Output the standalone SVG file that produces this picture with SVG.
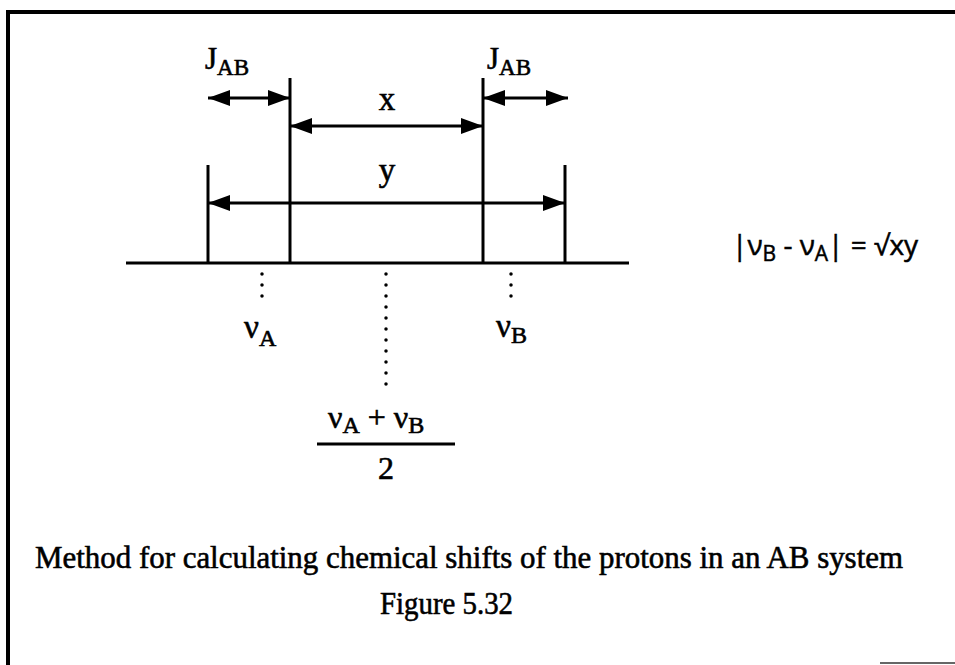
<svg xmlns="http://www.w3.org/2000/svg" width="955" height="665" viewBox="0 0 955 665">
<defs>
<marker id="ah" viewBox="0 0 22 16" refX="22" refY="8" markerWidth="22" markerHeight="16" markerUnits="userSpaceOnUse" orient="auto-start-reverse">
<path d="M0,0 L22,8 L0,16 Z" fill="#000"/>
</marker>
</defs>
<style>
.ln{stroke:#000;stroke-width:3;fill:none}
.ar{stroke:#000;stroke-width:3;fill:none;marker-start:url(#ah);marker-end:url(#ah)}
.dot{stroke:#000;stroke-width:3.5;stroke-linecap:round;stroke-dasharray:0 11;fill:none}
.t{font-family:"Liberation Serif","Times New Roman",serif;fill:#000;stroke:#000;stroke-width:0.6}
.s{font-family:"Open Sans","Liberation Sans",sans-serif;fill:#000;stroke:#000;stroke-width:0.5}
</style>
<rect width="955" height="665" fill="#fff"/>
<g id="frame">
<path d="M8,665 L8,12 L955,12" stroke="#000" stroke-width="4" fill="none"/>
<line x1="880" y1="663" x2="955" y2="663" stroke="#666" stroke-width="2"/>
</g>
<g id="axis">
<line class="ln" x1="126" y1="263" x2="629" y2="263" stroke-width="4"/>
<line class="ln" x1="290" y1="78" x2="290" y2="263"/>
<line class="ln" x1="483" y1="78" x2="483" y2="263"/>
<line class="ln" x1="208" y1="165" x2="208" y2="263"/>
<line class="ln" x1="565" y1="165" x2="565" y2="263"/>
</g>
<g id="connectors">
<line class="ar" x1="208" y1="98" x2="290" y2="98"/>
<line class="ar" x1="483" y1="98" x2="568" y2="98"/>
<line class="ar" x1="290" y1="126" x2="483" y2="126"/>
<line class="ar" x1="208" y1="203" x2="565" y2="203"/>
<line class="dot" x1="262" y1="274" x2="262" y2="306"/>
<line class="dot" x1="386" y1="274" x2="386" y2="386"/>
<line class="dot" x1="511" y1="274" x2="511" y2="306"/>
</g>
<g id="label-jab-left"><text class="t" x="205" y="69" font-size="31">J<tspan font-size="23" dy="6">AB</tspan></text></g>
<g id="label-jab-right"><text class="t" x="487" y="69" font-size="31">J<tspan font-size="23" dy="6">AB</tspan></text></g>
<g id="label-x"><text class="t" x="387" y="110" font-size="33" text-anchor="middle">x</text></g>
<g id="label-y"><text class="t" x="387" y="181" font-size="33" text-anchor="middle">y</text></g>
<g id="label-va"><text class="t" x="244" y="338" font-size="33">ν<tspan font-size="24" dy="8">A</tspan></text></g>
<g id="label-vb"><text class="t" x="496" y="337" font-size="33">ν<tspan font-size="24" dy="6">B</tspan></text></g>
<g id="label-mid">
<text class="t" x="328" y="428" font-size="32">ν<tspan font-size="24" dy="5">A</tspan><tspan dy="-5"> + ν</tspan><tspan font-size="24" dy="5">B</tspan></text>
<line class="ln" x1="317" y1="444" x2="455" y2="444" stroke-width="2.5"/>
<text class="t" x="386" y="479" font-size="32" text-anchor="middle">2</text>
</g>
<g id="formula"><text class="s" x="732" y="255" font-size="28">|ν<tspan font-size="21" dy="6">B</tspan><tspan dy="-6"> - ν</tspan><tspan font-size="21" dy="6">A</tspan><tspan dy="-6">| = √xy</tspan></text></g>
<g id="caption">
<text class="t" x="35" y="568" font-size="32" textLength="868" lengthAdjust="spacingAndGlyphs">Method for calculating chemical shifts of the protons in an AB system</text>
<text class="t" x="380" y="614" font-size="32" textLength="133" lengthAdjust="spacingAndGlyphs">Figure 5.32</text>
</g>
</svg>
